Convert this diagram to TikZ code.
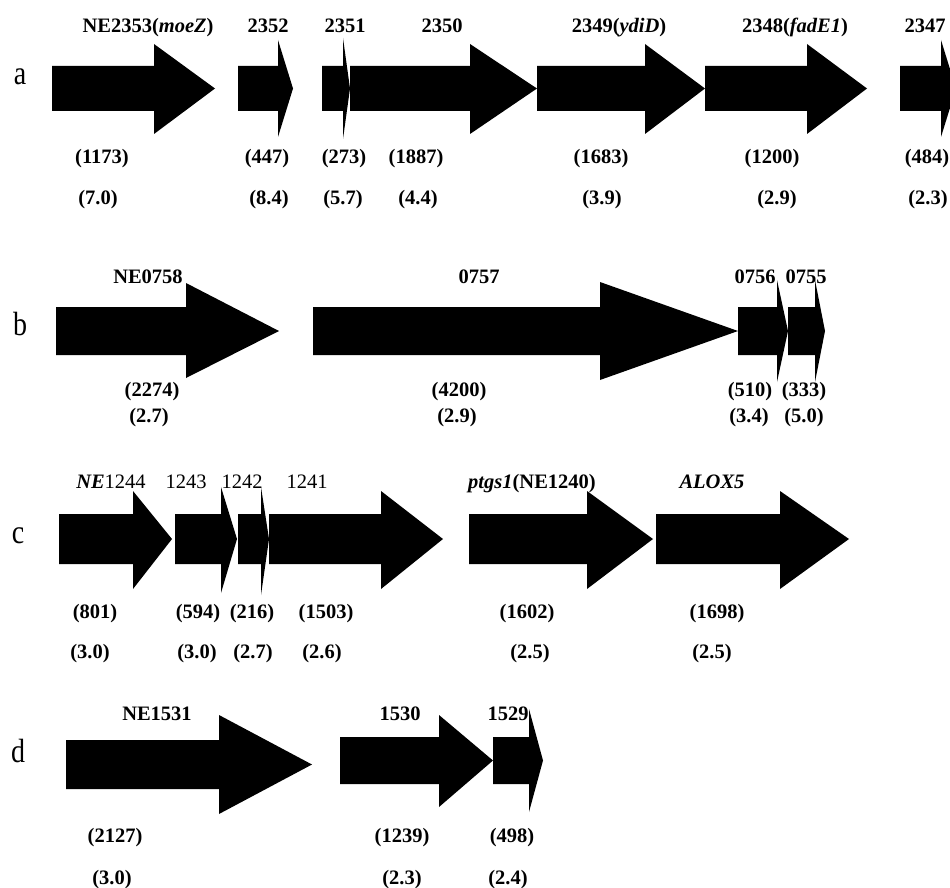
\documentclass[tikz,border=0pt]{standalone}
\usepackage{fontspec}
\setmainfont{Liberation Serif}
\newcommand{\garrow}[7]{\fill[gene] (#1,#4) -- (#2,#4) -- (#2,#6) -- (#3,{(#4+#5)/2}) -- (#2,#7) -- (#2,#5) -- (#1,#5) -- cycle;}
\tikzset{
  gene/.style={fill=black},
  lab/.style={font=\fontsize{20.5}{22}\selectfont\bfseries, anchor=base, inner sep=0pt},
  labr/.style={font=\fontsize{20.5}{22}\selectfont, anchor=base, inner sep=0pt},
  rowlab/.style={font=\fontsize{28}{30}\selectfont, anchor=base, inner sep=0pt}
}
\begin{document}
\begin{tikzpicture}[x=1pt,y=-1pt]
\useasboundingbox (0,0) rectangle (950,888);
\clip (0,0) rectangle (950,888);
% ---------- row a ----------
\node[rowlab] (ra) at (20,85) {\scalebox{1}[1.2]{a}};
\garrow{52}{154}{215}{66}{111}{44}{134}
\garrow{238}{278}{293}{66}{111}{40}{137}
\garrow{322}{343}{350}{66}{111}{38}{139}
\garrow{350}{470}{537}{66}{111}{44}{134}
\garrow{537}{645}{705}{66}{111}{44}{134}
\garrow{705}{807}{867}{66}{111}{44}{134}
\garrow{900}{941}{956}{66}{111}{40}{137}
\node[lab] (a1) at (148,33) {NE2353(\textit{moeZ})};
\node[lab] (a2) at (268,33) {2352};
\node[lab] (a3) at (345,33) {2351};
\node[lab] (a4) at (442,33) {2350};
\node[lab] (a5) at (619,33) {2349(\textit{ydiD})};
\node[lab] (a6) at (795,33) {2348(\textit{fadE1})};
\node[lab] (a7) at (925,33) {2347};
\node[lab] (an1) at (102,163) {(1173)};
\node[lab] (an2) at (267,163) {(447)};
\node[lab] (an3) at (344,163) {(273)};
\node[lab] (an4) at (416,163) {(1887)};
\node[lab] (an5) at (601,163) {(1683)};
\node[lab] (an6) at (772,163) {(1200)};
\node[lab] (an7) at (927,163) {(484)};
\node[lab] (ar1) at (98,204) {(7.0)};
\node[lab] (ar2) at (269,204) {(8.4)};
\node[lab] (ar3) at (343,204) {(5.7)};
\node[lab] (ar4) at (418,204) {(4.4)};
\node[lab] (ar5) at (602,204) {(3.9)};
\node[lab] (ar6) at (777,204) {(2.9)};
\node[lab] (ar7) at (928,204) {(2.3)};
% ---------- row b ----------
\node[rowlab] (rb) at (20,335) {\scalebox{1}[1.2]{b}};
\garrow{56}{186}{279}{307}{355}{283}{378}
\garrow{313}{600}{738}{307}{355}{282}{380}
\garrow{738}{777}{788}{307}{355}{280}{382}
\garrow{788}{815}{825}{307}{355}{280}{382}
\node[lab] (b1) at (148,283) {NE0758};
\node[lab] (b2) at (479,283) {0757};
\node[lab] (b3) at (755,283) {0756};
\node[lab] (b4) at (806,283) {0755};
\node[lab] (bn1) at (152,396) {(2274)};
\node[lab] (bn2) at (459,396) {(4200)};
\node[lab] (bn3) at (750,396) {(510)};
\node[lab] (bn4) at (804,396) {(333)};
\node[lab] (br1) at (149,422) {(2.7)};
\node[lab] (br2) at (457,422) {(2.9)};
\node[lab] (br3) at (749,422) {(3.4)};
\node[lab] (br4) at (804,422) {(5.0)};
% ---------- row c ----------
\node[rowlab] (rc) at (18,543) {\scalebox{1}[1.2]{c}};
\garrow{59}{133}{172}{514}{564}{491}{589}
\garrow{175}{221}{237}{514}{564}{487}{593}
\garrow{238}{261}{269}{514}{564}{487}{595}
\garrow{269}{381}{443}{514}{564}{491}{589}
\garrow{469}{587}{653}{514}{564}{491}{589}
\garrow{656}{780}{849}{514}{564}{491}{589}
\node[labr] (c1) at (111,488) {\textbf{\textit{NE}}1244};
\node[labr] (c2) at (186,488) {1243};
\node[labr] (c3) at (242,488) {1242};
\node[labr] (c4) at (307,488) {1241};
\node[lab] (c5) at (532,488) {\textit{ptgs1}(NE1240)};
\node[lab] (c6) at (712,488) {\textit{ALOX5}};
\node[lab] (cn1) at (95,618) {(801)};
\node[lab] (cn2) at (198,618) {(594)};
\node[lab] (cn3) at (252,618) {(216)};
\node[lab] (cn4) at (326,618) {(1503)};
\node[lab] (cn5) at (527,618) {(1602)};
\node[lab] (cn6) at (717,618) {(1698)};
\node[lab] (cr1) at (90,658) {(3.0)};
\node[lab] (cr2) at (197,658) {(3.0)};
\node[lab] (cr3) at (253,658) {(2.7)};
\node[lab] (cr4) at (322,658) {(2.6)};
\node[lab] (cr5) at (530,658) {(2.5)};
\node[lab] (cr6) at (712,658) {(2.5)};
% ---------- row d ----------
\node[rowlab] (rd) at (18,762) {\scalebox{1}[1.2]{d}};
\garrow{66}{219}{312}{740}{789}{715}{814}
\garrow{340}{439}{493}{737}{784}{715}{807}
\garrow{493}{529}{543}{737}{784}{709}{812}
\node[lab] (d1) at (157,720) {NE1531};
\node[lab] (d2) at (400,720) {1530};
\node[lab] (d3) at (508,720) {1529};
\node[lab] (dn1) at (115,842) {(2127)};
\node[lab] (dn2) at (402,842) {(1239)};
\node[lab] (dn3) at (512,842) {(498)};
\node[lab] (dr1) at (112,884) {(3.0)};
\node[lab] (dr2) at (402,884) {(2.3)};
\node[lab] (dr3) at (508,884) {(2.4)};
\end{tikzpicture}
\end{document}
